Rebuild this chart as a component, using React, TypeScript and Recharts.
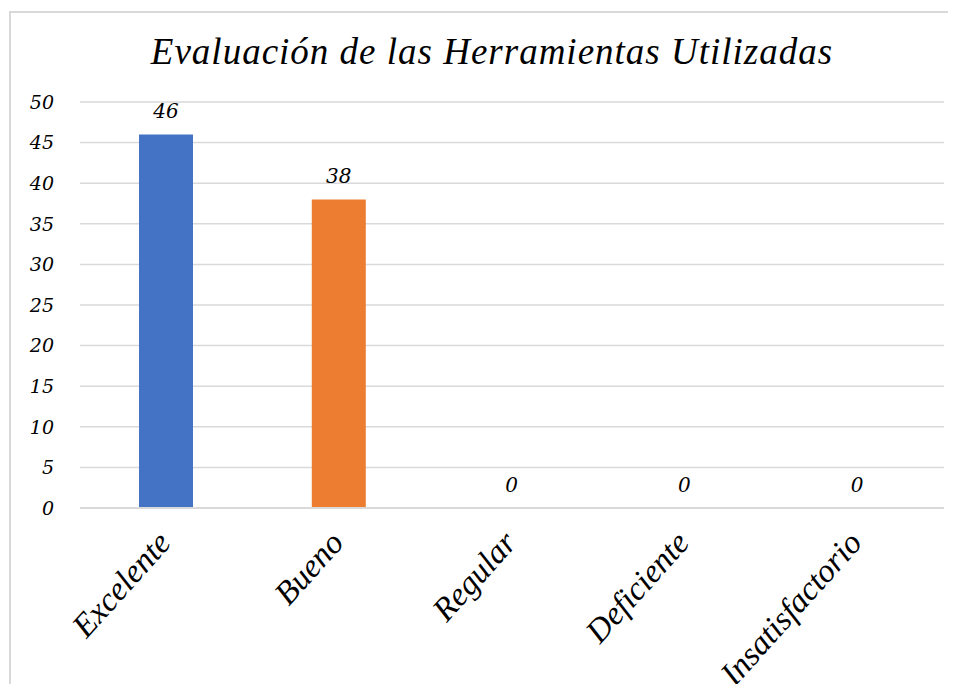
import React from "react";
import { BarChart, Bar, XAxis, YAxis, CartesianGrid, LabelList, Cell } from "recharts";

const categories = ["Excelente", "Bueno", "Regular", "Deficiente", "Insatisfactorio"];
const values = [46, 38, 0, 0, 0];
const barColors = ["#4472c4", "#ed7d31", "#a5a5a5", "#ffc000", "#5b9bd5"];
const yTicks = [0, 5, 10, 15, 20, 25, 30, 35, 40, 45, 50];

const data = categories.map((name, i) => ({ name, value: values[i] }));

const numFont = "'DejaVu Serif', serif";
const scriptFont = "'Liberation Serif', serif";

function CategoryTick(props: any) {
  const { x, y, payload } = props;
  return (
    <g transform={`translate(${x + 6},${y + 28})`}>
      <text
        transform="rotate(-48)"
        textAnchor="end"
        fill="#000"
        fontFamily={scriptFont}
        fontStyle="italic"
        fontSize={33}
      >
        {payload.value}
      </text>
    </g>
  );
}

export default function App() {
  return (
    <div style={{ position: "relative", width: 956, height: 692, margin: -8, overflow: "hidden", background: "#fff" }}>
      <div
        style={{
          position: "absolute",
          left: 9,
          top: 11,
          width: 1000,
          height: 720,
          border: "2px solid #d9d9d9",
          boxSizing: "border-box",
        }}
      />
      <div
        style={{
          position: "absolute",
          left: 0,
          width: 984,
          top: 30,
          textAlign: "center",
          fontFamily: scriptFont,
          fontStyle: "italic",
          fontSize: 37,
          letterSpacing: 1,
          color: "#000",
        }}
      >
        Evaluación de las Herramientas Utilizadas
      </div>
      <div style={{ position: "absolute", left: 0, top: 0 }}>
        <BarChart width={956} height={692} data={data} margin={{ top: 102, right: 12, left: 0, bottom: 0 }}>
          <CartesianGrid vertical={false} stroke="#d9d9d9" strokeWidth={1.5} />
          <XAxis
            dataKey="name"
            height={184}
            axisLine={{ stroke: "#d9d9d9", strokeWidth: 2 }}
            tickLine={false}
            interval={0}
            tick={<CategoryTick />}
          />
          <YAxis
            width={80}
            domain={[0, 50]}
            ticks={yTicks}
            axisLine={false}
            tickLine={false}
            tickMargin={20}
            tick={{ fill: "#000", fontFamily: numFont, fontStyle: "italic", fontSize: 19 }}
          />
          <Bar dataKey="value" barSize={54} minPointSize={0.01} isAnimationActive={false}>
            {data.map((d, i) => (
              <Cell key={d.name} fill={barColors[i]} />
            ))}
            <LabelList
              dataKey="value"
              position="top"
              offset={16}
              fill="#000"
              fontFamily={numFont}
              fontStyle="italic"
              fontSize={20}
            />
          </Bar>
        </BarChart>
      </div>
    </div>
  );
}
